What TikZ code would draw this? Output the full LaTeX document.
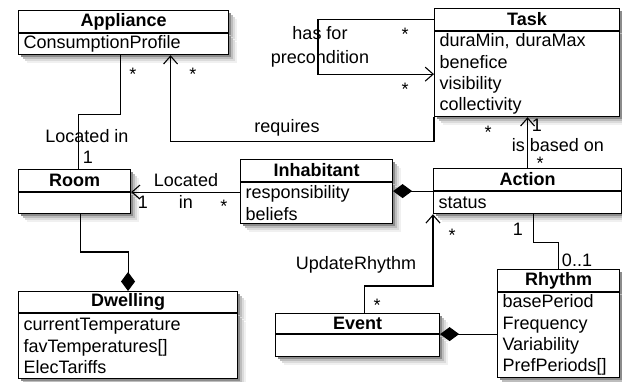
\documentclass[tikz,border=0pt]{standalone}
\usepackage{fontspec}
\setmainfont{Liberation Sans}
\usetikzlibrary{arrows.meta,positioning,shadows}

\newcommand{\umlfont}{\fontsize{18}{21.3}\selectfont}

\begin{document}
\begin{tikzpicture}[
    x=1pt, y=-1pt, line width=1.1pt,
    umlshadow/.style={
      drop shadow={shadow xshift=8pt, shadow yshift=-8pt, fill=black!6, opacity=1},
      drop shadow={shadow xshift=6pt, shadow yshift=-6pt, fill=black!14, opacity=1},
      drop shadow={shadow xshift=4pt, shadow yshift=-4pt, fill=black!26, opacity=1},
      drop shadow={shadow xshift=2pt, shadow yshift=-2pt, fill=black!45, opacity=1}},
    clsname/.style={draw, fill=white, umlshadow, font=\umlfont\bfseries,
                    inner sep=0pt, minimum height=22, anchor=north west},
    clsbody/.style={draw, fill=white, umlshadow, font=\umlfont, align=left,
                    inner xsep=5pt, inner ysep=0pt, minimum height=21,
                    below=0pt of #1},
    lbl/.style={font=\umlfont, inner sep=0pt, align=center},
    nav/.style={-{Straight Barb[length=8pt,width=14pt]}},
    comp/.style={{Diamond[length=19pt,width=14pt]}-},
  ]
    \useasboundingbox (0,0) rectangle (622,381);

    \node[clsname, minimum width=210] (appliance) at (18,10) {Appliance};
    \node[clsbody=appliance, text width=200] (applianceB) {ConsumptionProfile};

    \node[clsname, minimum width=185] (task) at (434,8) {Task};
    \node[clsbody=task, text width=175, minimum height=85] (taskB)
      {duraMin, duraMax\\benefice\\visibility\\collectivity};

    \node[clsname, minimum width=112] (room) at (18,169) {Room};
    \node[clsbody=room, text width=102] (roomB) {};

    \node[clsname, minimum width=152] (inhabitant) at (240,159) {Inhabitant};
    \node[clsbody=inhabitant, text width=142, minimum height=41] (inhabitantB)
      {responsibility\\beliefs};

    \node[clsname, minimum width=188] (action) at (433,168) {Action};
    \node[clsbody=action, text width=178, minimum height=22] (actionB) {status};

    \node[clsname, minimum width=219, minimum height=21] (dwelling) at (18,291) {Dwelling};
    \node[clsbody=dwelling, text width=209, minimum height=65] (dwellingB)
      {currentTemperature\\favTemperatures[]\\ElecTariffs};

    \node[clsname, minimum width=164, minimum height=20] (event) at (275,313) {Event};
    \node[clsbody=event, text width=154, minimum height=22] (eventB) {};

    \node[clsname, minimum width=122] (rhythm) at (497,269) {Rhythm};
    \node[clsbody=rhythm, text width=112, minimum height=85] (rhythmB)
      {basePeriod\\Frequency\\Variability\\PrefPeriods[]};

    \draw ([xshift=-3]applianceB.south) -- ++(0,59) -| ([xshift=4]room.north);
    \draw[nav] (taskB.south west) -- ++(0,24) -| ([xshift=47]applianceB.south);
    \draw[nav] (task.west) -- ++(-116,0) |- (taskB.west);
    \draw[nav] (action.north) -- (action.north |- taskB.south);
    \draw[nav] (inhabitantB.west |- roomB.north) -- (roomB.north east);
    \draw[comp] (inhabitant.east |- actionB.north) -- (actionB.north west);
    \draw[nav] ([xshift=7]event.north) -- ++(0,-27) -| (actionB.south west);
    \draw ([xshift=6]actionB.south) -- ++(0,28) -| (rhythm.north);
    \draw[comp] (eventB.north east) -- (eventB.north east -| rhythmB.west);
    \draw[comp] (dwelling.north) -- ++(0,-39) -| ([xshift=6]roomB.south);

    \node[lbl] (locatedA) at (87,136) {Located in};
    \node[lbl] (locatedAone) at (88,157) {1};
    \node[lbl] (locatedAmany) at (133,74) {*};
    \node[lbl] (requires) at (287,128) {requires};
    \node[lbl] (requiresApp) at (193,74) {*};
    \node[lbl] (requiresTask) at (488,132) {*};
    \node[lbl, font=\fontsize{18}{24}\selectfont] (precond) at (320,47) {has for\\precondition};
    \node[lbl] (precondTop) at (405,34) {*};
    \node[lbl] (precondBot) at (405,89) {*};
    \node[lbl] (basedOne) at (537,125) {1};
    \node[lbl] (based) at (558,145) {is based on};
    \node[lbl] (basedMany) at (540,163) {*};
    \node[lbl, font=\fontsize{18}{22}\selectfont] (locatedB) at (186,191) {Located\\in};
    \node[lbl] (locatedBone) at (143,202) {1};
    \node[lbl] (locatedBmany) at (224,206) {*};
    \node[lbl] (update) at (356,265) {UpdateRhythm};
    \node[lbl] (updateAction) at (452,235) {*};
    \node[lbl] (updateEvent) at (377,305) {*};
    \node[lbl] (rhythmOne) at (518,229) {1};
    \node[lbl] (rhythmOpt) at (577,260) {0..1};
  \end{tikzpicture}
\end{document}
